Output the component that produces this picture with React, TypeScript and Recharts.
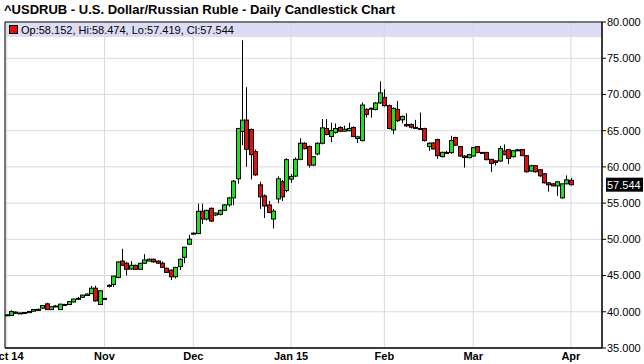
import {
  ComposedChart,
  Bar,
  XAxis,
  YAxis,
  CartesianGrid,
  ReferenceArea,
  ReferenceLine,
} from "recharts";

// daily OHLC, Oct 2014 -> Apr 1 2015, one entry per session
const opens = [
  39.55, 39.5, 39.95, 39.8, 39.85, 39.88, 40.08, 40.3, 40.5, 41.1,
  40.3, 40.72, 40.3, 40.95, 41.0, 41.35, 41.8, 42.0, 42.25, 42.5,
  43.25, 41.0, 41.82, 43.6, 43.77, 44.74, 47.0, 46.7, 45.9, 46.41,
  45.86, 46.7, 47.0, 47.25, 47.0, 46.7, 46.0, 45.76, 44.84, 46.23,
  47.52, 49.33, 50.8, 50.81, 53.87, 52.8, 54.28, 53.36, 53.45, 54.0,
  54.75, 55.72, 58.36, 64.9, 66.46, 65.16, 62.1, 57.52, 56.0, 54.74,
  52.8, 55.58, 57.94, 56.73, 58.31, 58.73, 61.04, 63.26, 62.8, 60.25,
  61.78, 63.26, 65.3, 64.19, 64.75, 65.44, 64.93, 65.0, 65.44, 63.92,
  63.63, 67.94, 68.05, 67.94, 68.82, 69.6, 68.45, 65.11, 67.94, 66.5,
  65.86, 65.86, 65.45, 65.3, 65.3, 62.8, 63.3, 63.77, 61.41, 61.95,
  61.97, 64.05, 62.8, 61.5, 61.27, 61.5, 62.8, 61.97, 61.97, 61.04,
  60.83, 60.81, 62.2, 62.38, 61.41, 62.3, 62.38, 61.55, 59.42, 60.16,
  59.6, 59.05, 57.8, 57.66, 57.38, 55.72, 57.66, 58.152,
];
const highs = [
  39.62, 40.2, 40.05, 39.9, 39.95, 40.1, 40.35, 40.45, 40.95, 41.25,
  40.75, 40.95, 41.1, 41.1, 41.45, 41.8, 42.05, 42.35, 42.55, 43.55,
  43.6, 42.95, 41.88, 43.8, 44.95, 46.95, 48.7, 46.9, 47.0, 46.5,
  46.75, 47.95, 47.35, 47.35, 47.1, 46.95, 46.1, 45.85, 46.2, 47.35,
  48.95, 50.62, 50.95, 54.93, 54.93, 54.1, 54.4, 53.7, 54.1, 54.85,
  55.85, 58.2, 65.4, 77.47, 71.0, 65.3, 62.4, 57.95, 56.2, 55.3,
  54.2, 58.7, 58.2, 61.2, 59.0, 61.3, 63.96, 63.4, 62.95, 61.5,
  63.4, 66.6, 66.6, 66.1, 66.0, 65.6, 65.7, 66.1, 65.6, 64.3,
  68.9, 68.1, 68.15, 68.95, 71.8, 70.7, 68.6, 68.2, 69.1, 67.1,
  67.4, 66.0, 66.5, 67.5, 65.4, 63.4, 63.4, 63.9, 62.1, 62.2,
  64.3, 64.15, 62.9, 61.6, 61.8, 62.75, 62.9, 62.05, 62.1, 61.1,
  60.9, 62.9, 63.1, 62.45, 62.35, 62.5, 62.45, 61.6, 60.3, 60.25,
  59.7, 59.1, 57.9, 57.75, 58.0, 57.7, 58.82, 58.474,
];
const lows = [
  39.48, 39.45, 39.72, 39.74, 39.8, 39.84, 40.05, 40.2, 40.45, 40.25,
  40.25, 40.65, 40.25, 40.85, 40.95, 41.3, 41.7, 41.95, 42.2, 42.45,
  41.4, 40.95, 41.8, 43.35, 43.4, 44.6, 46.3, 45.0, 45.8, 45.8,
  45.8, 46.6, 46.95, 46.8, 46.6, 46.05, 45.35, 44.38, 44.6, 45.76,
  46.7, 49.2, 50.7, 50.7, 52.1, 52.6, 52.4, 53.2, 53.3, 53.9,
  54.5, 54.7, 57.68, 63.0, 60.02, 58.26, 58.74, 54.19, 52.94, 53.6,
  51.5, 55.0, 55.3, 56.5, 57.8, 58.6, 60.9, 62.4, 59.9, 60.1,
  61.6, 63.1, 64.35, 63.4, 64.6, 64.8, 64.85, 64.9, 64.1, 63.3,
  63.5, 66.8, 66.8, 67.8, 68.7, 68.3, 65.2, 64.5, 66.2, 66.0,
  65.5, 65.3, 65.3, 65.1, 63.5, 62.2, 62.4, 61.1, 61.3, 61.8,
  61.8, 62.9, 61.4, 59.9, 61.2, 61.4, 61.9, 61.9, 60.9, 59.3,
  60.2, 60.7, 61.6, 60.4, 61.3, 62.2, 61.5, 59.2, 59.3, 59.2,
  58.6, 57.7, 56.6, 57.3, 56.0, 55.6, 57.6, 57.419,
];
const closes = [
  39.58, 40.02, 39.78, 39.84, 39.9, 40.05, 40.3, 40.33, 40.86, 40.3,
  40.7, 40.8, 41.05, 41.0, 41.4, 41.75, 41.85, 42.3, 42.45, 43.25,
  41.5, 42.9, 41.85, 43.65, 44.93, 46.88, 46.41, 45.86, 46.41, 45.86,
  46.7, 47.15, 47.25, 46.88, 46.7, 46.13, 45.44, 44.84, 46.13, 47.25,
  48.91, 50.02, 50.85, 53.87, 52.8, 54.0, 52.52, 53.63, 54.0, 54.75,
  55.72, 58.03, 65.3, 66.46, 62.43, 61.7, 58.9, 55.86, 54.6, 53.72,
  53.9, 58.36, 55.86, 61.0, 58.68, 61.04, 63.26, 62.52, 60.25, 61.4,
  63.26, 65.39, 64.47, 65.02, 65.3, 64.93, 65.2, 65.3, 64.19, 64.15,
  68.54, 67.25, 68.1, 68.82, 70.21, 68.45, 65.3, 68.08, 66.37, 66.97,
  65.67, 65.48, 65.4, 65.2, 63.63, 63.26, 62.48, 61.55, 62.01, 62.0,
  63.63, 62.99, 61.5, 61.3, 61.69, 62.66, 61.97, 62.0, 61.0, 60.49,
  60.6, 62.52, 61.69, 61.18, 62.24, 62.35, 61.55, 59.33, 60.16, 59.33,
  58.77, 57.8, 57.53, 57.38, 57.94, 57.66, 58.21, 57.544,
];

// first session of each month
const monthTicks = [0, 22, 42, 64, 85, 105, 127];
const monthLabels = ["Oct 14", "Nov", "Dec", "Jan 15", "Feb", "Mar", "Apr"];
const priceTicks = [35, 40, 45, 50, 55, 60, 65, 70, 75, 80];

const GREEN = "#1ee11e";
const RED = "#e01010";

const data = opens.map((open, i) => ({
  i,
  open,
  high: highs[i],
  low: lows[i],
  close: closes[i],
  range: [lows[i], highs[i]],
}));

const last = data[data.length - 1];

const Candle = (props: any) => {
  const { x, y, width, height, payload } = props;
  if (!payload || height == null) return null;
  const { open, close, high, low } = payload;
  const cx = Math.round(x + width / 2) + 0.5;
  const k = high - low > 0 ? height / (high - low) : 0;
  const yo = y + (high - open) * k;
  const yc = y + (high - close) * k;
  const top = Math.min(yo, yc);
  const h = Math.max(Math.abs(yo - yc), 1);
  return (
    <g>
      <line x1={cx} x2={cx} y1={y} y2={y + height} stroke="#000" strokeWidth={1} />
      <rect
        x={cx - 2}
        y={top}
        width={4}
        height={h}
        fill={close >= open ? GREEN : RED}
        stroke="#000"
        strokeWidth={1}
      />
    </g>
  );
};

const LastTag = (props: any) => {
  const vb = props.viewBox;
  if (!vb) return null;
  const x0 = vb.x + vb.width + 4;
  return (
    <g>
      <rect x={x0} y={vb.y - 7} width={37} height={14} fill="#000" />
      <text x={x0 + 1} y={vb.y + 4} fill="#fff" fontSize={11}>
        {last.close.toFixed(3)}
      </text>
    </g>
  );
};

export default function App() {
  return (
    <div
      style={{
        position: "absolute",
        left: 0,
        top: 0,
        width: 644,
        height: 364,
        background: "#fff",
        fontFamily: "Arial, 'Liberation Sans', sans-serif",
        overflow: "hidden",
      }}
    >
      <div
        style={{
          position: "absolute",
          left: 6,
          top: 23,
          width: 596,
          height: 14,
          background: "#dcdcf5",
        }}
      />
      <div style={{ position: "absolute", left: 0, top: 0 }}>
        <ComposedChart
          width={644}
          height={364}
          data={data}
          margin={{ top: 22, right: 0, bottom: 0, left: 5 }}
        >
          <CartesianGrid stroke="#d9d9d9" />
          <XAxis
            type="number"
            dataKey="i"
            domain={[-0.4, 134]}
            ticks={monthTicks}
            interval={0}
            tickFormatter={(v) => monthLabels[monthTicks.indexOf(v)]}
            tick={{ fontSize: 11, fontWeight: "bold", fill: "#000" }}
            tickLine={false}
            tickSize={0}
            tickMargin={4}
            height={16}
            axisLine={{ stroke: "#000" }}
            allowDataOverflow
          />
          <YAxis
            orientation="right"
            domain={[35, 80]}
            ticks={priceTicks}
            interval={0}
            tickFormatter={(v) => v.toFixed(3)}
            tick={{ fontSize: 11, fill: "#000" }}
            tickLine={{ stroke: "#000" }}
            tickSize={4}
            tickMargin={1}
            width={42}
            axisLine={{ stroke: "#000" }}
            allowDataOverflow
          />
          <Bar
            dataKey="range"
            barSize={4}
            shape={<Candle />}
            isAnimationActive={false}
          />
          <ReferenceArea
            x1={-0.4}
            x2={134}
            y1={35}
            y2={80}
            fill="none"
            fillOpacity={0}
            stroke="#000"
            strokeWidth={1}
          />
          <ReferenceLine y={last.close} stroke="none" label={<LastTag />} />
        </ComposedChart>
      </div>
      <div
        style={{
          position: "absolute",
          left: 4,
          top: 2,
          fontSize: 13,
          fontWeight: "bold",
          color: "#000",
          whiteSpace: "nowrap",
        }}
      >
        ^USDRUB - U.S. Dollar/Russian Ruble - Daily Candlestick Chart
      </div>
      <div
        style={{
          position: "absolute",
          left: 9,
          top: 25,
          width: 7,
          height: 7,
          background: RED,
          border: "1px solid #000",
        }}
      />
      <div
        style={{
          position: "absolute",
          left: 21,
          top: 23,
          fontSize: 11,
          lineHeight: "14px",
          color: "#000",
          whiteSpace: "nowrap",
        }}
      >
        Op:{last.open.toFixed(3)}, Hi:{last.high.toFixed(3)}, Lo:{last.low.toFixed(3)}, Cl:{last.close.toFixed(3)}
      </div>
    </div>
  );
}
